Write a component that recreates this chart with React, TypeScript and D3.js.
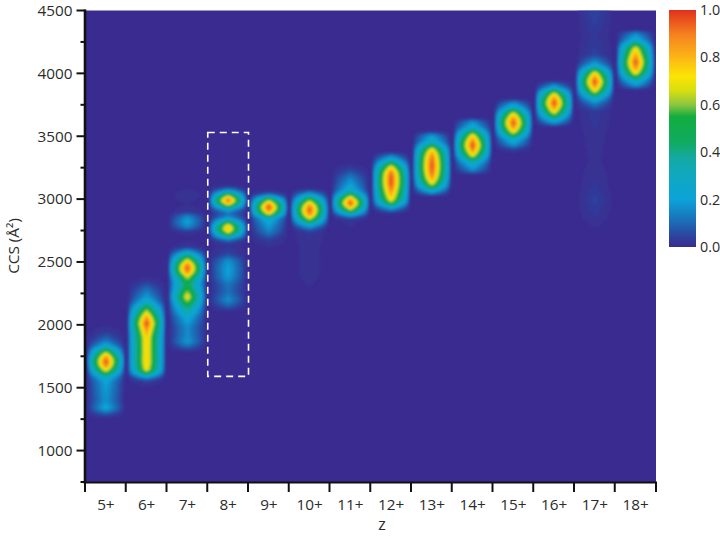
import React, { useMemo } from "react";
import * as d3 from "d3";

const charges = ["5+", "6+", "7+", "8+", "9+", "10+", "11+", "12+", "13+", "14+", "15+", "16+", "17+", "18+"];
const yMajor = [1000, 1500, 2000, 2500, 3000, 3500, 4000, 4500];
const yMinor = [750, 1250, 1750, 2250, 2750, 3250, 3750, 4250];
const barTicks = [0, 0.2, 0.4, 0.6, 0.8, 1];

// colour bar readings
const colorStops = [0, 0.04, 0.1, 0.2, 0.3, 0.38, 0.44, 0.55, 0.6, 0.66, 0.72, 0.8, 0.9, 1];
const colorValues = ["#3a2b90", "#2f3f9c", "#1d68b4", "#0ca3d8", "#10a8c0", "#14a9a0", "#10ab60", "#12ad40", "#8cc63f", "#d8de10", "#fbe404", "#fbb616", "#f4801f", "#e1301c"];

// CCS / intensity readings along the middle of each charge state column
const ccs5 = [1250, 1290, 1335, 1400, 1480, 1545, 1580, 1610, 1640, 1675, 1706, 1737, 1770, 1800, 1835, 1880, 1950, 2020];
const int5 = [0, 0.08, 0.24, 0.18, 0.2, 0.22, 0.3, 0.5, 0.72, 0.92, 1, 0.92, 0.72, 0.5, 0.25, 0.12, 0.03, 0];
const ccs6 = [1480, 1540, 1565, 1590, 1615, 1645, 1700, 1800, 1900, 1960, 2012, 2055, 2093, 2143, 2180, 2220, 2300, 2350, 2400];
const int6 = [0, 0.03, 0.1, 0.25, 0.5, 0.72, 0.78, 0.77, 0.78, 0.88, 1, 0.88, 0.72, 0.5, 0.3, 0.2, 0.1, 0.03, 0];
const ccs7 = [1780, 1830, 1865, 1920, 1980, 2060, 2140, 2180, 2223, 2270, 2331, 2390, 2420, 2449, 2480, 2510, 2545, 2575, 2620, 2690, 2740, 2780, 2820, 2860, 2900, 2960, 3040, 3100];
const int7 = [0, 0.12, 0.2, 0.17, 0.17, 0.25, 0.45, 0.6, 0.74, 0.6, 0.5, 0.72, 0.92, 1, 0.92, 0.72, 0.5, 0.25, 0.03, 0, 0.03, 0.17, 0.22, 0.17, 0.03, 0.01, 0.03, 0];
const ccs8 = [2100, 2140, 2196, 2260, 2320, 2380, 2449, 2510, 2560, 2640, 2680, 2710, 2740, 2766, 2792, 2820, 2850, 2880, 2912, 2945, 2965, 2989, 3013, 3035, 3070, 3100, 3130];
const int8 = [0, 0.08, 0.18, 0.12, 0.13, 0.2, 0.22, 0.18, 0.06, 0.02, 0.15, 0.45, 0.72, 0.85, 0.72, 0.45, 0.2, 0.12, 0.2, 0.55, 0.78, 1, 0.78, 0.55, 0.18, 0.03, 0];
const ccs9 = [2600, 2680, 2740, 2800, 2850, 2865, 2885, 2910, 2933, 2956, 2980, 3003, 3025, 3050, 3080];
const int9 = [0, 0.05, 0.15, 0.22, 0.3, 0.5, 0.72, 0.92, 1, 0.92, 0.72, 0.5, 0.22, 0.05, 0];
const ccs10 = [2200, 2400, 2600, 2730, 2760, 2790, 2820, 2850, 2880, 2912, 2945, 2975, 3005, 3035, 3060, 3090];
const int10 = [0, 0.02, 0.02, 0.03, 0.1, 0.25, 0.5, 0.72, 0.92, 1, 0.92, 0.72, 0.5, 0.25, 0.1, 0];
const ccs11 = [2700, 2830, 2855, 2875, 2900, 2926, 2950, 2970, 2990, 3014, 3040, 3065, 3110, 3170, 3230, 3290];
const int11 = [0, 0.02, 0.1, 0.25, 0.5, 0.72, 0.9, 1, 0.9, 0.72, 0.5, 0.3, 0.22, 0.15, 0.06, 0];
const ccs12 = [2880, 2905, 2935, 2960, 2990, 3040, 3090, 3120, 3170, 3210, 3256, 3285, 3320, 3350, 3380];
const int12 = [0, 0.1, 0.25, 0.5, 0.72, 0.85, 0.95, 1, 1, 0.95, 0.72, 0.5, 0.25, 0.12, 0];
const ccs13 = [3020, 3045, 3070, 3095, 3126, 3170, 3210, 3260, 3320, 3360, 3397, 3425, 3455, 3510, 3535, 3560];
const int13 = [0, 0.15, 0.3, 0.5, 0.72, 0.88, 0.96, 1, 0.96, 0.88, 0.72, 0.5, 0.3, 0.18, 0.03, 0];
const ccs14 = [3190, 3225, 3285, 3320, 3348, 3395, 3428, 3461, 3508, 3536, 3570, 3620, 3650];
const int14 = [0, 0.15, 0.3, 0.5, 0.72, 0.92, 1, 0.92, 0.72, 0.5, 0.28, 0.15, 0];
const ccs15 = [3360, 3400, 3430, 3475, 3505, 3533, 3575, 3606, 3637, 3679, 3705, 3735, 3770, 3800];
const int15 = [0, 0.06, 0.18, 0.3, 0.5, 0.72, 0.92, 1, 0.92, 0.72, 0.5, 0.28, 0.15, 0];
const ccs16 = [3570, 3600, 3625, 3660, 3690, 3735, 3762, 3795, 3835, 3860, 3885, 3920, 3950];
const int16 = [0, 0.15, 0.28, 0.5, 0.72, 0.92, 1, 0.92, 0.72, 0.5, 0.25, 0.1, 0];
const ccs17 = [2700, 2800, 2900, 3000, 3100, 3300, 3500, 3700, 3760, 3800, 3830, 3860, 3905, 3932, 3960, 4005, 4030, 4060, 4085, 4150, 4300, 4500];
const int17 = [0, 0.015, 0.035, 0.05, 0.03, 0.015, 0.02, 0.04, 0.15, 0.3, 0.5, 0.72, 0.92, 1, 0.92, 0.72, 0.5, 0.28, 0.18, 0.05, 0.03, 0.06];
const ccs18 = [3865, 3895, 3935, 3970, 4000, 4050, 4091, 4140, 4200, 4230, 4265, 4320, 4350];
const int18 = [0, 0.15, 0.3, 0.5, 0.72, 0.92, 1, 0.88, 0.72, 0.5, 0.28, 0.15, 0];

const columnCcs = [ccs5, ccs6, ccs7, ccs8, ccs9, ccs10, ccs11, ccs12, ccs13, ccs14, ccs15, ccs16, ccs17, ccs18];
const columnInt = [int5, int6, int7, int8, int9, int10, int11, int12, int13, int14, int15, int16, int17, int18];

// how the intensity drops across a column, as a share of the band width
const acrossBand = [0, 0.1, 0.2, 0.3, 0.4, 0.44, 0.48];
const acrossShare = [1, 0.8, 0.6, 0.42, 0.22, 0.1, 0];

const boxCcs = [1590, 3530];
const boxCharge = "8+";

const W = 720;
const H = 539;
const left = 85.5;
const right = 656;
const top = 10.5;
const bottom = 482;

const font = "'Open Sans', sans-serif";
const ink = "#2b2b2b";

export default function App() {
  const x = d3.scaleBand<string>().domain(charges).range([left, right]);
  const y = d3.scaleLinear().domain([750, 4500]).range([bottom, top]);
  const color = d3.scaleLinear<string>().domain(colorStops).range(colorValues).clamp(true);
  const barY = d3.scaleLinear().domain([0, 1]).range([247, 10]);
  const across = d3.scaleLinear().domain(acrossBand).range(acrossShare).clamp(true);

  const paths = useMemo(() => {
    const step = 2;
    const nx = Math.ceil((right - left) / step);
    const ny = Math.ceil((bottom - top) / step);
    const profiles = columnCcs.map((c, i) =>
      d3.scaleLinear().domain(c).range(columnInt[i]).clamp(true)
    );
    const grid = new Array(nx * ny);
    for (let j = 0; j < ny; j++) {
      const ccs = y.invert(top + (j + 0.5) * step);
      for (let i = 0; i < nx; i++) {
        const px = left + (i + 0.5) * step;
        const k = Math.min(charges.length - 1, Math.floor((px - left) / x.step()));
        const center = x(charges[k])! + x.bandwidth() / 2;
        const dist = Math.abs(px - center) / x.bandwidth();
        grid[j * nx + i] = profiles[k](ccs) * across(dist);
      }
    }
    const levels = d3.range(0.01, 1, 0.015);
    const shapes = d3.contours().size([nx, ny]).thresholds(levels)(grid);
    const path = d3.geoPath(
      d3.geoTransform({
        point(px: number, py: number) {
          (this as any).stream.point(left + px * step, top + py * step);
        },
      })
    );
    return shapes.map((s) => ({ d: path(s as any) || "", v: s.value }));
  }, []);

  const bx = x(boxCharge)!;

  return (
    <svg width={W} height={H} style={{ position: "absolute", left: 0, top: 0 }} fontFamily={font}>
      <defs>
        <linearGradient id="bar" x1="0" y1="1" x2="0" y2="0">
          {colorStops.map((s, i) => (
            <stop key={s} offset={s} stopColor={colorValues[i]} />
          ))}
        </linearGradient>
        <filter id="soft" x="0" y="0" width="100%" height="100%">
          <feGaussianBlur stdDeviation="0.8" />
        </filter>
        <clipPath id="plot">
          <rect x={left} y={top} width={right - left} height={bottom - top} />
        </clipPath>
      </defs>

      <rect x={left} y={top} width={right - left} height={bottom - top} fill={colorValues[0]} />
      <g clipPath="url(#plot)">
        <g filter="url(#soft)">
          {paths.map((p) => (
            <path key={p.v} d={p.d} fill={color(p.v)} />
          ))}
        </g>
      </g>

      <rect
        x={bx}
        y={y(boxCcs[1])}
        width={x.bandwidth()}
        height={y(boxCcs[0]) - y(boxCcs[1])}
        fill="none"
        stroke="#fff"
        strokeWidth={1.6}
        strokeDasharray="7 5"
      />

      {/* axes */}
      <line x1={left - 0.5} x2={left - 0.5} y1={top - 1} y2={bottom + 1} stroke="#111" strokeWidth={2.6} />
      <line x1={left - 2} x2={right + 1} y1={bottom + 0.5} y2={bottom + 0.5} stroke="#111" strokeWidth={2.2} />
      {yMajor.map((t) => (
        <g key={t}>
          <line x1={left - 9} x2={left} y1={y(t)} y2={y(t)} stroke="#111" strokeWidth={2} />
          <text x={left - 13} y={y(t)} dy="0.35em" textAnchor="end" fontSize={15.3} fill={ink}>
            {t}
          </text>
        </g>
      ))}
      {yMinor.map((t) => (
        <line key={t} x1={left - 5} x2={left} y1={y(t)} y2={y(t)} stroke="#111" strokeWidth={2} />
      ))}
      {charges.map((c) => (
        <g key={c}>
          <line x1={x(c)! - 0.5} x2={x(c)! - 0.5} y1={bottom} y2={bottom + 10} stroke="#111" strokeWidth={2} />
          <text x={x(c)! + x.bandwidth() / 2} y={505} dy="0.35em" textAnchor="middle" fontSize={15.3} fill={ink}>
            {c}
          </text>
        </g>
      ))}
      <line x1={right} x2={right} y1={bottom} y2={bottom + 10} stroke="#111" strokeWidth={2} />
      <text x={382} y={530} textAnchor="middle" fontSize={16} fill={ink}>
        z
      </text>
      <text transform="translate(14,246) rotate(-90)" textAnchor="middle" dy="0.35em" fontSize={15.3} fill={ink}>
        CCS (Å²)
      </text>

      {/* colour bar */}
      <rect x={669} y={barY(1)} width={27} height={barY(0) - barY(1)} fill="url(#bar)" />
      {barTicks.map((t) => (
        <text key={t} x={700} y={barY(t)} dy="0.35em" fontSize={14.3} fill={ink}>
          {t.toFixed(1)}
        </text>
      ))}
    </svg>
  );
}
